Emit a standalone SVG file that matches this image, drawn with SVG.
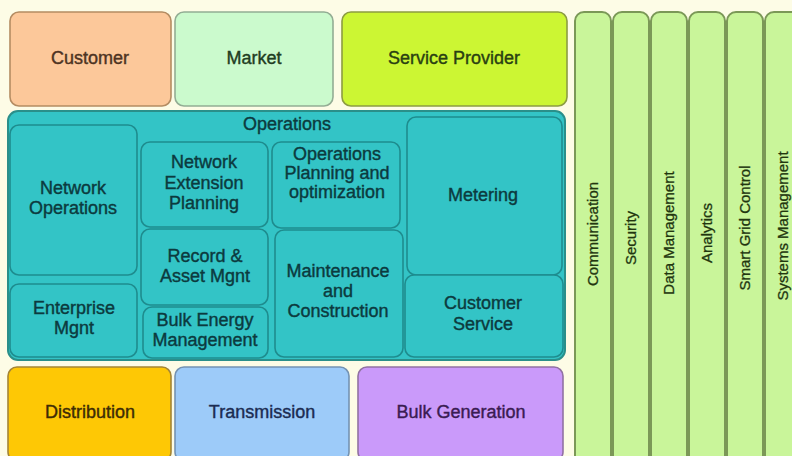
<svg xmlns="http://www.w3.org/2000/svg" width="792" height="456" viewBox="0 0 792 456">
<style>
.lbl{font-family:"Liberation Sans",Arial,sans-serif;font-size:18px;text-anchor:middle;stroke-width:0.4}
.vl{font-family:"Liberation Sans",Arial,sans-serif;font-size:15px;text-anchor:middle;fill:#22360f;stroke:#22360f;stroke-width:0.3}
.op{fill:#33c4c6;stroke:#1e8c8e;stroke-width:1.6}
.opt{fill:#0c3a3e;stroke:#0c3a3e}
.col{fill:#c9f59a;stroke:#7b9857;stroke-width:2}
</style>
<rect width="792" height="456" fill="#fdfce6"/>

<g id="customer">
<rect x="10" y="12" width="161" height="94" rx="9" fill="#fcc89a" stroke="#b48c62" stroke-width="1.6"/>
<text class="lbl" x="90" y="64" fill="#4d3322" stroke="#4d3322">Customer</text>
</g>
<g id="market">
<rect x="175" y="12" width="158" height="94" rx="9" fill="#cbfacd" stroke="#93ad94" stroke-width="1.6"/>
<text class="lbl" x="254" y="64" fill="#1f3d22" stroke="#1f3d22">Market</text>
</g>
<g id="service-provider">
<rect x="342" y="12" width="225" height="94" rx="9" fill="#ccf633" stroke="#8c9c42" stroke-width="1.6"/>
<text class="lbl" x="454" y="64" fill="#2a4012" stroke="#2a4012">Service Provider</text>
</g>

<g id="operations">
<rect x="8" y="111" width="557" height="249" rx="10" fill="#33c4c6" stroke="#2a8f8a" stroke-width="2"/>
<text class="lbl opt" x="287" y="130" font-size="17">Operations</text>
</g>
<g id="network-operations">
<rect class="op" x="10" y="125" width="127" height="150" rx="9"/>
<text class="lbl opt" x="73" y="194">Network</text>
<text class="lbl opt" x="73" y="214">Operations</text>
</g>
<g id="enterprise-mgnt">
<rect class="op" x="10" y="284" width="127" height="73" rx="9"/>
<text class="lbl opt" x="74" y="314">Enterprise</text>
<text class="lbl opt" x="74" y="334">Mgnt</text>
</g>
<g id="network-extension-planning">
<rect class="op" x="141" y="142" width="127" height="85" rx="9"/>
<text class="lbl opt" x="204" y="168">Network</text>
<text class="lbl opt" x="204" y="189">Extension</text>
<text class="lbl opt" x="204" y="209">Planning</text>
</g>
<g id="record-asset-mgnt">
<rect class="op" x="141" y="229" width="127" height="76" rx="9"/>
<text class="lbl opt" x="205" y="262">Record &amp;</text>
<text class="lbl opt" x="205" y="282">Asset Mgnt</text>
</g>
<g id="bulk-energy-management">
<rect class="op" x="143" y="307" width="125" height="51" rx="9"/>
<text class="lbl opt" x="205" y="326">Bulk Energy</text>
<text class="lbl opt" x="205" y="346">Management</text>
</g>
<g id="operations-planning">
<rect class="op" x="272" y="142" width="128" height="86" rx="9"/>
<text class="lbl opt" x="337" y="160">Operations</text>
<text class="lbl opt" x="337" y="179">Planning and</text>
<text class="lbl opt" x="337" y="198">optimization</text>
</g>
<g id="maintenance-construction">
<rect class="op" x="275" y="230" width="128" height="127" rx="9"/>
<text class="lbl opt" x="338" y="277">Maintenance</text>
<text class="lbl opt" x="338" y="297">and</text>
<text class="lbl opt" x="338" y="317">Construction</text>
</g>
<g id="metering">
<rect class="op" x="407" y="117" width="155" height="158" rx="9"/>
<text class="lbl opt" x="483" y="201">Metering</text>
</g>
<g id="customer-service">
<rect class="op" x="405" y="275" width="158" height="82" rx="9"/>
<text class="lbl opt" x="483" y="309">Customer</text>
<text class="lbl opt" x="483" y="330">Service</text>
</g>

<g id="distribution">
<rect x="8" y="367" width="163" height="94" rx="9" fill="#fec805" stroke="#a48536" stroke-width="1.6"/>
<text class="lbl" x="90" y="418" fill="#3e2c05" stroke="#3e2c05">Distribution</text>
</g>
<g id="transmission">
<rect x="175" y="367" width="174" height="94" rx="9" fill="#9dcbf9" stroke="#7492b2" stroke-width="1.6"/>
<text class="lbl" x="262" y="418" fill="#1c2c52" stroke="#1c2c52">Transmission</text>
</g>
<g id="bulk-generation">
<rect x="358" y="367" width="205" height="94" rx="9" fill="#ca9afa" stroke="#9172a3" stroke-width="1.6"/>
<text class="lbl" x="461" y="418" fill="#3a1c52" stroke="#3a1c52">Bulk Generation</text>
</g>

<g id="communication">
<rect class="col" x="575" y="12" width="36" height="452" rx="9"/>
<text class="vl" transform="translate(598,234) rotate(-90)">Communication</text>
</g>
<g id="security">
<rect class="col" x="613" y="12" width="36" height="452" rx="9"/>
<text class="vl" transform="translate(636,238) rotate(-90)">Security</text>
</g>
<g id="data-management">
<rect class="col" x="651" y="12" width="36" height="452" rx="9"/>
<text class="vl" transform="translate(674,233) rotate(-90)">Data Management</text>
</g>
<g id="analytics">
<rect class="col" x="689" y="12" width="36" height="452" rx="9"/>
<text class="vl" transform="translate(712,233) rotate(-90)">Analytics</text>
</g>
<g id="smart-grid-control">
<rect class="col" x="727" y="12" width="36" height="452" rx="9"/>
<text class="vl" transform="translate(750,228) rotate(-90)">Smart Grid Control</text>
</g>
<g id="systems-management">
<rect class="col" x="765" y="12" width="36" height="452" rx="9"/>
<text class="vl" transform="translate(788,226) rotate(-90)">Systems Management</text>
</g>
<g id="connectors"/>
</svg>
